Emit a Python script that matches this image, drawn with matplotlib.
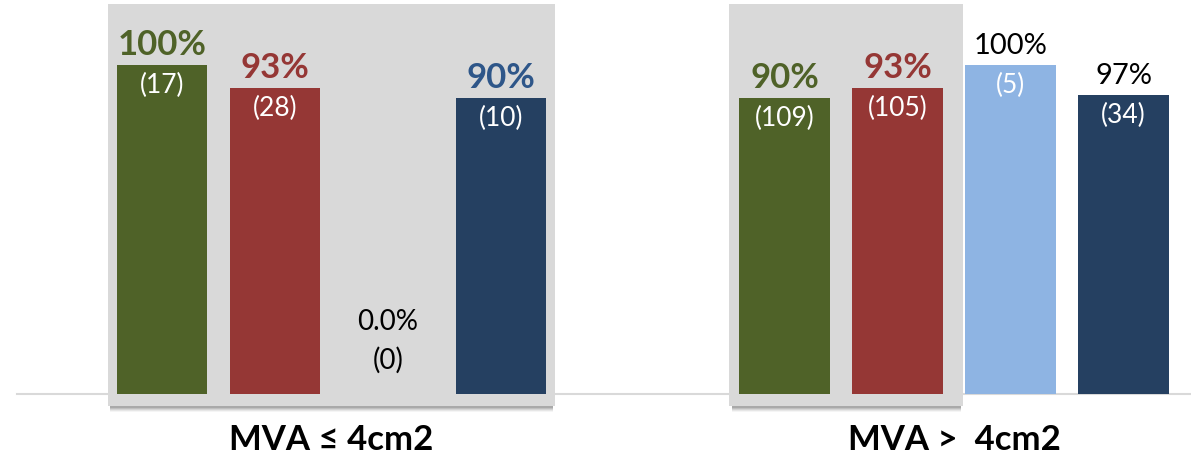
import numpy as np
import matplotlib.pyplot as plt
from matplotlib.patches import Rectangle

plt.rcParams['font.family'] = ['Lato', 'DejaVu Sans']

# Data
groups = ['MVA \u2264 4cm2', 'MVA >  4cm2']
series_colors = ['#4F6228', '#953735', '#8EB4E3', '#254061']
label_colors = ['#4F6228', '#953735', '#000000', '#2E5689']
bar_heights = [[100, 93, 0, 90],
               [90, 93, 100, 91]]
pct_labels = [['100%', '93%', '0.0%', '90%'],
              ['90%', '93%', '100%', '97%']]
counts = [[17, 28, 0, 10],
          [109, 105, 5, 34]]
highlight = [[True, True, False, True],
             [True, True, False, False]]

group_gap = 5.51
bar_w = 0.8

fig = plt.figure(figsize=(11.91, 4.62), dpi=100)
ax = fig.add_axes([0, 0, 1, 1])
ax.set_xlim(-1.434, 9.106)
ax.set_ylim(-20.67, 119.76)
ax.axis('off')

# baseline
ax.plot([-1.28, 9.106], [0, 0], color='#D9D9D9', lw=1.5, zorder=0)

# gray highlight boxes with a soft shadow
boxes = [(-0.48, 3.48), (group_gap - 0.49, group_gap + 1.58)]
for x0, x1 in boxes:
    for k, a in enumerate([0.06, 0.09, 0.12, 0.16, 0.2]):
        ax.add_patch(Rectangle((x0 + 0.02, -5.6 + k * 0.35), x1 - x0 - 0.04, 6,
                               facecolor='#555555', alpha=a, lw=0, zorder=1))
    ax.add_patch(Rectangle((x0, -3.6), x1 - x0, 122.0,
                           facecolor='#D9D9D9', lw=0, zorder=2))

for g, name in enumerate(groups):
    xs = g * group_gap + np.arange(4)
    ax.bar(xs, bar_heights[g], width=bar_w, color=series_colors, zorder=3)
    for i, x in enumerate(xs):
        v = bar_heights[g][i]
        if v == 0:
            ax.text(x, 22, pct_labels[g][i], ha='center', va='center',
                    fontsize=20, color='black', zorder=4)
            ax.text(x, 10.3, f'({counts[g][i]})', ha='center', va='center',
                    fontsize=20, color='black', zorder=4)
            continue
        if highlight[g][i]:
            ax.annotate(pct_labels[g][i], (x, v), xytext=(0, 3),
                        textcoords='offset points', ha='center', va='bottom',
                        fontsize=25, fontweight='bold', color=label_colors[i],
                        zorder=4)
        else:
            ax.annotate(pct_labels[g][i], (x, v), xytext=(0, 4),
                        textcoords='offset points', ha='center', va='bottom',
                        fontsize=21, color='black', zorder=4)
        ax.annotate(f'({counts[g][i]})', (x, v), xytext=(0, -15),
                    textcoords='offset points', ha='center', va='center',
                    fontsize=19, color='white', zorder=4)
    ax.text(xs.mean(), -14, name, ha='center', va='center',
            fontsize=25, fontweight='bold', color='black')

fig.savefig('out.png', dpi=100)
